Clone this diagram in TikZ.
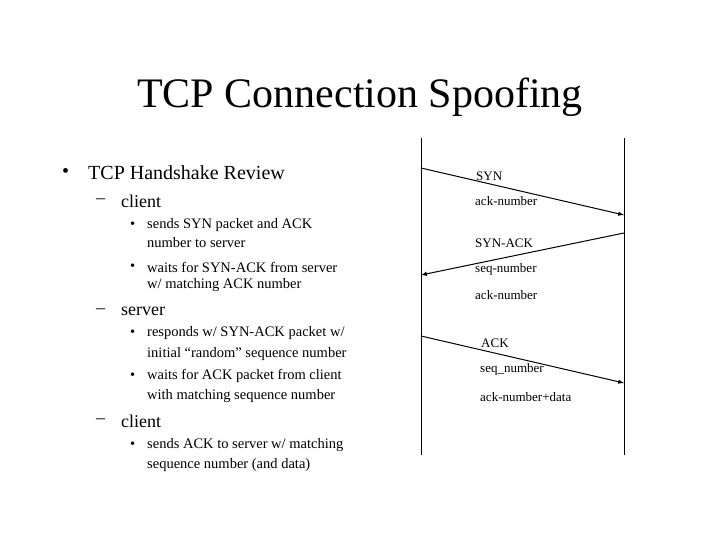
\documentclass[tikz,border=0pt]{standalone}
\usepackage{fontspec}
\setmainfont{Liberation Serif}
\begin{document}
\begin{tikzpicture}[x=1pt,y=-1pt,
  t1/.style={anchor=west,font=\fontsize{20}{22}\selectfont,inner sep=0},
  t2/.style={anchor=west,font=\fontsize{18}{20}\selectfont,inner sep=0},
  t3/.style={anchor=west,font=\fontsize{14.5}{16}\selectfont,inner sep=0},
  lab/.style={anchor=west,font=\fontsize{13}{14}\selectfont,inner sep=0},
  life/.style={line width=0.8pt},
  msg/.style={line width=1pt,-latex}]
\useasboundingbox (0,0) rectangle (720,540);
\node[font=\fontsize{42}{46}\selectfont] (title) at (360,97) {TCP Connection Spoofing};
\node[t1] (b1) at (62,173) {•}; \node[t1] (l1) at (88,173) {TCP Handshake Review};
\node[t2] (d1) at (96,201) {–}; \node[t2] (l2) at (121,201) {client};
\node[t3] (s1) at (130,225) {•}; \node[t3] (l3) at (147,225) {sends SYN packet and ACK};
\node[t3] (l4) at (147,243) {number to server};
\node[t3] (s2) at (130,267) {•}; \node[t3] (l5) at (147,267) {waits for SYN-ACK from server};
\node[t3] (l6) at (147,285) {w/ matching ACK number};
\node[t2] (d2) at (96,311) {–}; \node[t2] (l7) at (121,311) {server};
\node[t3] (s3) at (130,333) {•}; \node[t3] (l8) at (147,333) {responds w/ SYN-ACK packet w/};
\node[t3] (l9) at (147,354) {initial “random” sequence number};
\node[t3] (s4) at (130,376) {•}; \node[t3] (l10) at (147,376) {waits for ACK packet from client};
\node[t3] (l11) at (147,396) {with matching sequence number};
\node[t2] (d3) at (96,421) {–}; \node[t2] (l12) at (121,421) {client};
\node[t3] (s5) at (130,445) {•}; \node[t3] (l13) at (147,445) {sends ACK to server w/ matching};
\node[t3] (l14) at (147,465) {sequence number (and data)};
\coordinate (lt) at (421,138); \coordinate (lb) at (421,455);
\coordinate (rt) at (624,138); \coordinate (rb) at (624,455);
\draw[life] (lt) -- (lb); \draw[life] (rt) -- (rb);
\coordinate (a1) at (421,168); \coordinate (a2) at (624,215);
\coordinate (a3) at (624,233); \coordinate (a4) at (421,275);
\coordinate (a5) at (421,336); \coordinate (a6) at (624,383);
\draw[msg] (a1) -- (a2); \draw[msg] (a3) -- (a4); \draw[msg] (a5) -- (a6);
\node[lab] (m1) at (476,176) {SYN};
\node[lab] (m2) at (475,201) {ack-number};
\node[lab] (m3) at (475,243) {SYN-ACK};
\node[lab] (m4) at (475,269) {seq-number};
\node[lab] (m5) at (475,295) {ack-number};
\node[lab] (m6) at (481,343) {ACK};
\node[lab] (m7) at (480,369) {seq\_number};
\node[lab] (m8) at (480,397) {ack-number+data};
\end{tikzpicture}
\end{document}
